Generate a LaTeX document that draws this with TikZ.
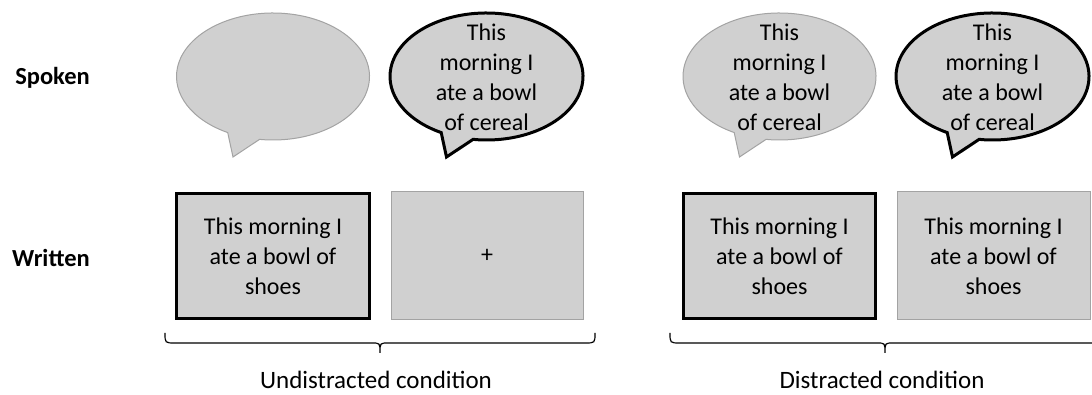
\documentclass[tikz,border=0pt]{standalone}
\usepackage{fontspec}
\setmainfont{Carlito}
\definecolor{boxfill}{HTML}{D0D0D0}
\definecolor{thinedge}{HTML}{A3A3A3}
\tikzset{
  thinb/.style={fill=boxfill, draw=thinedge, line width=1pt},
  thickb/.style={fill=boxfill, draw=black, line width=3pt, line join=miter},
  btext/.style={align=center, font=\fontsize{24}{30}\selectfont, inner sep=0pt},
  rowlab/.style={font=\fontsize{24.5}{29}\selectfont\bfseries, inner sep=0pt},
  condlab/.style={font=\fontsize{25}{29}\selectfont, inner sep=0pt, anchor=base},
  brace/.style={draw=black, line width=1.2pt},
}
\newcommand\speechbubble[3]{%
  \path[#3] (#1,#2) ++(262:96.5 and 63.5)
    arc[start angle=262, end angle=602, x radius=96.5, y radius=63.5]
    -- (#1-40,#2-80.5) -- cycle;}
\begin{document}
\begin{tikzpicture}[x=1pt,y=1pt]
\useasboundingbox (0,0) rectangle (1092,395);
% row labels
\node[rowlab] (spoken) at (52.5,317) {Spoken};
\node[rowlab] (written) at (51,137) {Written};
% speech bubbles
\speechbubble{273}{318.5}{thinb}
\speechbubble{486.5}{318.5}{thickb}
\speechbubble{779.5}{318.5}{thinb}
\speechbubble{992.5}{318.5}{thickb}
\node[btext] (b2) at (486.5,317.5) {This\\morning I\\ate a bowl\\of cereal};
\node[btext] (b3) at (779.5,317.5) {This\\morning I\\ate a bowl\\of cereal};
\node[btext] (b4) at (992.5,317.5) {This\\morning I\\ate a bowl\\of cereal};
% written boxes
\node[thickb, minimum width=193pt, minimum height=125pt, btext] (w1) at (273,139) {This morning I\\ate a bowl of\\shoes};
\node[thinb, minimum width=192pt, minimum height=128pt, btext] (w2) at (487,139) {+};
\node[thickb, minimum width=192pt, minimum height=125pt, btext] (w3) at (779.5,139) {This morning I\\ate a bowl of\\shoes};
\node[thinb, minimum width=193pt, minimum height=128pt, btext] (w4) at (993.5,139) {This morning I\\ate a bowl of\\shoes};
% braces
\coordinate (u1) at (165,62);
\coordinate (um) at (380,42);
\coordinate (u2) at (595,62);
\draw[brace] (u1) .. controls (165,52) .. (175,52) -- (372,52)
  .. controls (380,52) .. (um) .. controls (380,52) .. (388,52)
  -- (585,52) .. controls (595,52) .. (u2);
\coordinate (d1) at (670,62);
\coordinate (dm) at (885,42);
\coordinate (d2) at (1100,62);
\draw[brace] (d1) .. controls (670,52) .. (680,52) -- (877,52)
  .. controls (885,52) .. (dm) .. controls (885,52) .. (893,52)
  -- (1090,52) .. controls (1100,52) .. (d2);
\node[condlab] (ucond) at (376,6.5) {Undistracted condition};
\node[condlab] (dcond) at (882,6.5) {Distracted condition};
\end{tikzpicture}
\end{document}
